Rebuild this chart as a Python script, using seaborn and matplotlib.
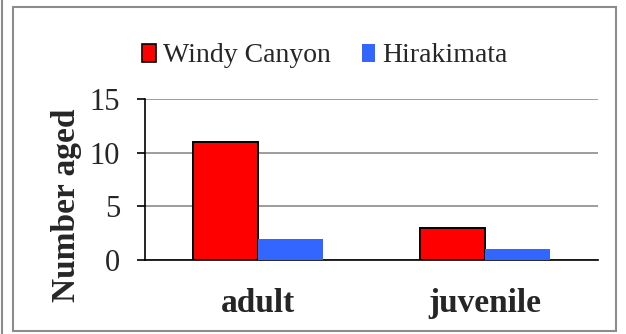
import matplotlib
matplotlib.use("Agg")
import matplotlib.pyplot as plt
import matplotlib.patches as mpatches
from matplotlib.lines import Line2D
import seaborn as sns
import pandas as pd

categories = ["adult", "juvenile"]
sites = ["Windy Canyon", "Hirakimata"]
windy_canyon = [11, 3]
hirakimata = [2, 1]
y_ticks = [0, 5, 10, 15]

colors = {"Windy Canyon": "#FF0000", "Hirakimata": "#3366FF"}

df = pd.DataFrame({
    "stage": categories * 2,
    "site": [sites[0]] * len(categories) + [sites[1]] * len(categories),
    "count": windy_canyon + hirakimata,
})

sns.set_theme(style="white")
plt.rcParams["font.family"] = ["Liberation Serif", "DejaVu Serif"]

W, H = 626, 334
fig = plt.figure(figsize=(W / 100, H / 100), dpi=100)
ax = fig.add_axes([145 / W, 1 - 260 / H, (598 - 145) / W, (260 - 99) / H])

sns.barplot(data=df, x="stage", y="count", hue="site", order=categories,
            hue_order=sites, palette=colors, width=0.574, saturation=1,
            ax=ax, legend=False)

for bar, site in zip(ax.patches, [s for s in sites for _ in categories]):
    if site == "Windy Canyon":
        bar.set_edgecolor("black")
        bar.set_linewidth(1.4)
    else:
        bar.set_edgecolor("none")
        bar.set_linewidth(0)
    bar.set_zorder(3)

ax.set_xlim(-0.5, 1.5)
ax.set_ylim(0, 15)
ax.set_yticks(y_ticks)
ax.set_yticklabels([str(t) for t in y_ticks], fontsize=22)
ax.yaxis.grid(True, color="#8c8c8c", linewidth=1.2)
ax.set_axisbelow(True)

ax.set_xticks([-0.5, 0.5, 1.5])
ax.set_xticklabels([])
ax.set_xticks([0, 1], minor=True)
ax.set_xticklabels(categories, minor=True, fontsize=24, fontweight="bold")
ax.tick_params(axis="x", which="minor", length=0, pad=20)
ax.tick_params(axis="x", which="major", length=8, width=1.2, color="black",
               direction="out")
ax.tick_params(axis="y", length=6, width=1.2, color="black", direction="out",
               left=True, pad=12)

for side in ["top", "right"]:
    ax.spines[side].set_visible(False)
for side in ["left", "bottom"]:
    ax.spines[side].set_color("black")
    ax.spines[side].set_linewidth(1.2)

ax.set_xlabel("")
ax.set_ylabel("Number aged", fontsize=24, fontweight="bold")
ax.yaxis.set_label_coords(-0.173, 0.34)
ax.yaxis.label.set_verticalalignment("center")

handles = [
    mpatches.Patch(facecolor=colors["Windy Canyon"], edgecolor="black",
                   linewidth=1.2, label="Windy Canyon"),
    mpatches.Patch(facecolor=colors["Hirakimata"], edgecolor="none",
                   label="Hirakimata"),
]
fig.legend(handles=handles, loc="center", bbox_to_anchor=(325 / W, 1 - 56 / H),
           ncol=2, frameon=False, fontsize=20, handlelength=0.5,
           handleheight=0.6, handletextpad=0.25, columnspacing=1.1,
           borderaxespad=0)

# Chart frame
fig.patches.append(mpatches.Rectangle((13 / W, 1 - 331 / H), (616 - 13) / W,
                                      (331 - 7) / H, transform=fig.transFigure,
                                      fill=False, edgecolor="#8c8c8c",
                                      linewidth=1.5))
fig.lines.append(Line2D([1.5 / W, 1.5 / W], [0, 1], transform=fig.transFigure,
                        color="#8c8c8c", linewidth=1.5))

fig.savefig("out.png", dpi=100)
